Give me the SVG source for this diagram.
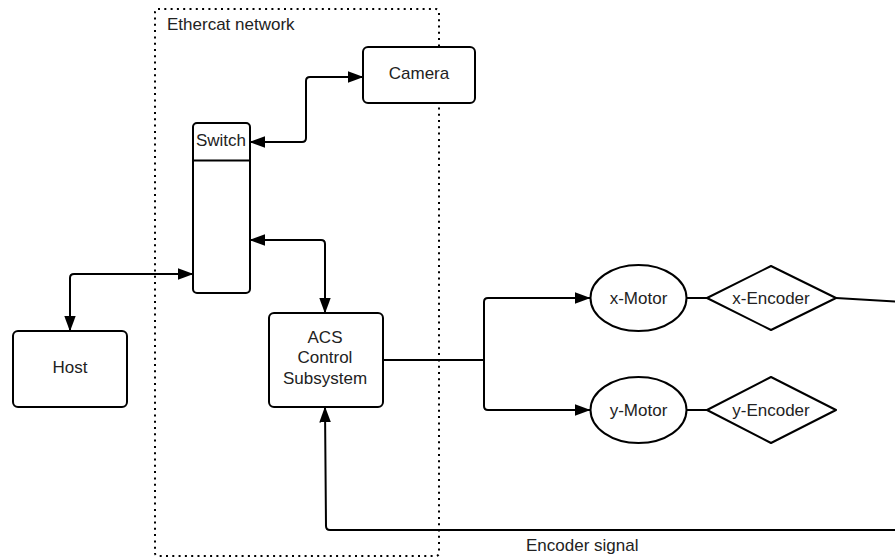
<svg xmlns="http://www.w3.org/2000/svg" width="895" height="560" viewBox="0 0 895 560">
  <style>
    .box { fill: #ffffff; stroke: #000000; stroke-width: 2; }
    .wire { fill: none; stroke: #000000; stroke-width: 2; }
    .lbl { font-family: "Liberation Sans", Arial, sans-serif; font-size: 17px; fill: #222222; }
    .mid { text-anchor: middle; }
  </style>
  <defs>
    <marker id="arrow" markerUnits="userSpaceOnUse" markerWidth="16" markerHeight="12" viewBox="0 0 15 11" refX="14.5" refY="5.5" orient="auto-start-reverse">
      <path d="M0,0 L15,5.5 L0,11 z" fill="#000000"/>
    </marker>
  </defs>

  <rect width="895" height="560" fill="#ffffff"/>

  <!-- network boundary -->
  <g id="ethercat-network">
    <rect x="155" y="9" width="284" height="547" rx="3" fill="none" stroke="#000000" stroke-width="2" stroke-dasharray="2 4.3"/>
    <text class="lbl" x="167" y="30">Ethercat network</text>
  </g>

  <!-- connectors -->
  <g id="connectors">
    <path class="wire" d="M250,142 H302 Q306,142 306,138 V81 Q306,77 310,77 H363" marker-start="url(#arrow)" marker-end="url(#arrow)"/>
    <path class="wire" d="M250,240 H321 Q325,240 325,244 V313" marker-start="url(#arrow)" marker-end="url(#arrow)"/>
    <path class="wire" d="M70,331 V278 Q70,274 74,274 H193" marker-start="url(#arrow)" marker-end="url(#arrow)"/>
    <path class="wire" d="M383,360 H484"/>
    <path class="wire" d="M484,360 V302 Q484,298 488,298 H590" marker-end="url(#arrow)"/>
    <path class="wire" d="M484,360 V406 Q484,410 488,410 H590" marker-end="url(#arrow)"/>
    <path class="wire" d="M687,298 H707"/>
    <path class="wire" d="M687,410 H707"/>
    <path class="wire" d="M836,298 L905,302 V530 H330 Q326,530 326,526 L325,407" marker-end="url(#arrow)"/>
    <text class="lbl" x="526" y="551">Encoder signal</text>
  </g>

  <g id="camera">
    <rect class="box" x="363" y="47" width="112" height="56" rx="5"/>
    <text class="lbl mid" x="419" y="79">Camera</text>
  </g>

  <g id="switch">
    <rect class="box" x="193" y="123" width="57" height="170" rx="4"/>
    <line x1="193" y1="160.5" x2="250" y2="160.5" stroke="#000000" stroke-width="2"/>
    <text class="lbl mid" x="221" y="146">Switch</text>
  </g>

  <g id="host">
    <rect class="box" x="13" y="331" width="114" height="76" rx="5"/>
    <text class="lbl mid" x="70" y="373">Host</text>
  </g>

  <g id="acs">
    <rect class="box" x="269" y="313" width="114" height="94" rx="5"/>
    <text class="lbl mid" x="325" y="342.5">ACS</text>
    <text class="lbl mid" x="325" y="363">Control</text>
    <text class="lbl mid" x="325" y="383.5">Subsystem</text>
  </g>

  <g id="x-motor">
    <ellipse class="box" cx="638.5" cy="298" rx="48" ry="33"/>
    <text class="lbl mid" x="638.5" y="304">x-Motor</text>
  </g>

  <g id="x-encoder">
    <polygon class="box" points="707,298 771,266 836,298 771,330" stroke-linejoin="round"/>
    <text class="lbl mid" x="771" y="304">x-Encoder</text>
  </g>

  <g id="y-motor">
    <ellipse class="box" cx="638.5" cy="410" rx="48" ry="33"/>
    <text class="lbl mid" x="638.5" y="416">y-Motor</text>
  </g>

  <g id="y-encoder">
    <polygon class="box" points="707,410 771,377 836,410 771,443" stroke-linejoin="round"/>
    <text class="lbl mid" x="771" y="416">y-Encoder</text>
  </g>
</svg>
